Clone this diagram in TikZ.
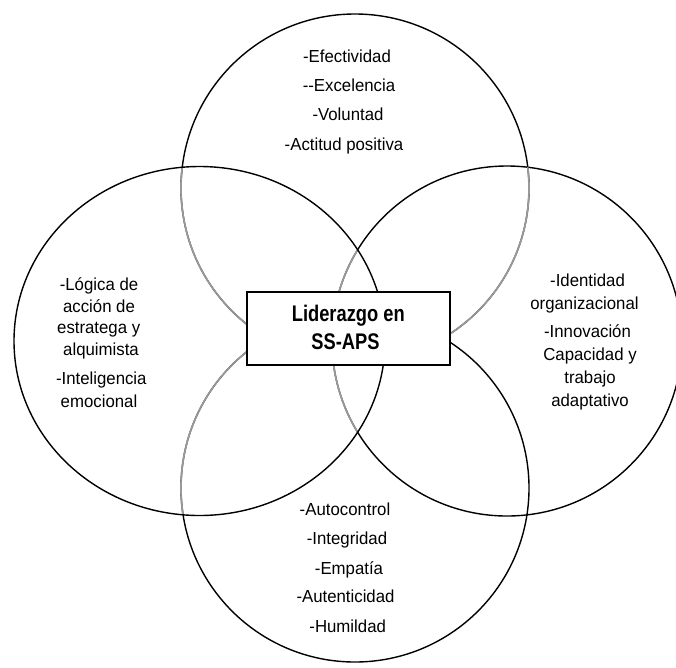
\documentclass[tikz,border=0pt]{standalone}
\usepackage{fontspec}
\setmainfont{Liberation Sans}[FakeStretch=0.965]
\newfontfamily\condbold[FakeStretch=0.81]{Liberation Sans}
\definecolor{lgray}{gray}{0.6}
\tikzset{
  ring/.style={line width=1.4pt, draw=black},
  gring/.style={line width=1.7pt, draw=lgray},
  txt/.style={anchor=base, inner sep=0pt, font=\fontsize{17.4}{20}\selectfont},
  btxt/.style={anchor=base, inner sep=0pt, font=\condbold\bfseries\fontsize{22.6}{27}\selectfont},
  centerbox/.style={draw=black, line width=1.6pt, fill=white, minimum width=203pt, minimum height=73pt, inner sep=0pt}
}
\begin{document}
\begin{tikzpicture}[x=1pt, y=-1pt]
\useasboundingbox (0,0) rectangle (676,667);
\coordinate (T) at (355,188);
\coordinate (B) at (355,488);
\coordinate (L) at (199.5,341);
\coordinate (R) at (507,341);
% black circles
\draw[ring] (T) circle[radius=174pt];
\draw[ring] (B) circle[radius=174pt];
\draw[ring] (R) circle[radius=175pt];
% grey parts inside the left circle
\begin{scope}
  \clip (L) ellipse[x radius=185.5pt, y radius=174.5pt];
  \draw[gring] (T) circle[radius=174pt];
  \draw[gring] (B) circle[radius=174pt];
  \draw[gring] (R) circle[radius=175pt];
\end{scope}
% grey part of the top circle inside the right circle
\begin{scope}
  \clip (R) circle[radius=175pt];
  \draw[gring] (T) circle[radius=174pt];
\end{scope}
\draw[ring] (L) ellipse[x radius=185.5pt, y radius=174.5pt];
% centre box
\node[centerbox] (box) at (348.5,328.5) {};
\node[btxt] (c1) at (348.3,321.7) {Liderazgo en};
\node[btxt] (c2) at (345.5,349) {SS-APS};
% top
\node[txt] (t1) at (347,62) {-Efectividad};
\node[txt] (t2) at (349,91.7) {-{}-Excelencia};
\node[txt] (t3) at (348,120.7) {-Voluntad};
\node[txt] (t4) at (344,150) {-Actitud positiva};
% left
\node[txt] (l1) at (99,290) {-Lógica de};
\node[txt] (l2) at (99,312) {acción de};
\node[txt] (l3) at (98.7,333.5) {estratega y};
\node[txt] (l4) at (101,355.5) {alquimista};
\node[txt] (l5) at (101.3,384) {-Inteligencia};
\node[txt] (l6) at (99,407) {emocional};
% right
\node[txt] (r1) at (587.5,286) {-Identidad};
\node[txt] (r2) at (584.5,309.3) {organizacional};
\node[txt] (r3) at (587.5,337.3) {-Innovación};
\node[txt] (r4) at (590,360) {Capacidad y};
\node[txt] (r5) at (590,383.3) {trabajo};
\node[txt] (r6) at (590,406.7) {adaptativo};
% bottom
\node[txt] (b1) at (345,515) {-Autocontrol};
\node[txt] (b2) at (347,544.3) {-Integridad};
\node[txt] (b3) at (349,574) {-Empatía};
\node[txt] (b4) at (345.5,602.7) {-Autenticidad};
\node[txt] (b5) at (347.7,632.5) {-Humildad};
\end{tikzpicture}
\end{document}
